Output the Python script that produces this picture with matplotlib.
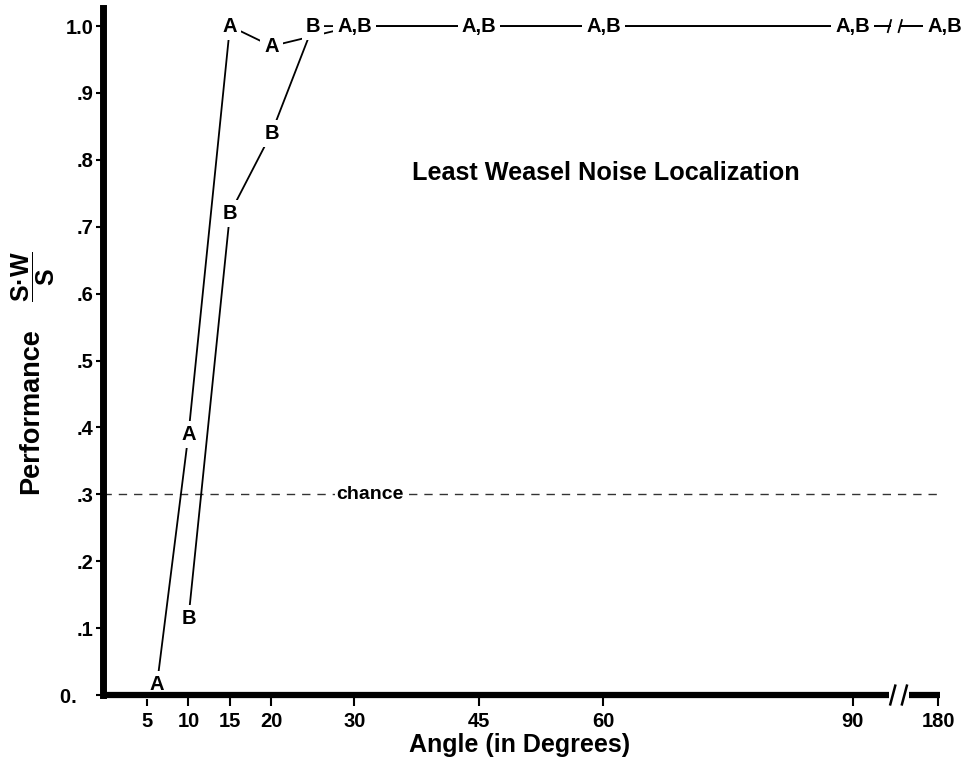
import matplotlib
matplotlib.use('Agg')
import matplotlib.pyplot as plt

plt.rcParams['font.family'] = ['Liberation Sans', 'DejaVu Sans']
plt.rcParams['font.weight'] = 'bold'
plt.rcParams['mathtext.fontset'] = 'custom'
plt.rcParams['mathtext.rm'] = 'Liberation Sans:bold'
plt.rcParams['mathtext.it'] = 'Liberation Sans:bold'
plt.rcParams['mathtext.bf'] = 'Liberation Sans:bold'

# data (angle in degrees, proportion correct)
angle_a = [6.2, 10, 15, 20, 30, 45, 60, 90, 180]
perf_a = [0.015, 0.39, 1.0, 0.97, 1.0, 1.0, 1.0, 1.0, 1.0]
angle_b = [10, 15, 20, 25, 30, 45, 60, 90, 180]
perf_b = [0.115, 0.72, 0.84, 1.0, 1.0, 1.0, 1.0, 1.0, 1.0]
chance = 0.3

x_ticks = [5, 10, 15, 20, 30, 45, 60, 90, 180]
y_ticks = [0, .1, .2, .3, .4, .5, .6, .7, .8, .9, 1.0]
y_ticklabels = ['0.   ', '.1', '.2', '.3', '.4', '.5', '.6', '.7', '.8', '.9', '1.0']

# broken axis: everything past 90 is squeezed to one spot
P180 = 100.3
BREAK_LO, BREAK_HI = 94.4, 96.8


def pos(a):
    return a if a <= 90 else P180


fig = plt.figure(figsize=(9.65, 7.63), dpi=100)
ax = fig.add_axes([0.1067, 0.0891, 0.8674, 0.9004])
ax.set_xlim(-0.3, 100.54)
ax.set_ylim(0, 1.027)

for s in ['top', 'right', 'bottom']:
    ax.spines[s].set_visible(False)
ax.spines['left'].set_linewidth(5)

# bottom axis line with break marks
ax.plot([-0.3, BREAK_LO], [0, 0], color='black', lw=4.5, solid_capstyle='butt', clip_on=False, zorder=5)
ax.plot([BREAK_HI, 100.54], [0, 0], color='black', lw=4.5, solid_capstyle='butt', clip_on=False, zorder=5)
for bx in [94.85, 96.25]:
    ax.plot([bx - 0.3, bx + 0.3], [-0.014, 0.014], color='black', lw=1.8, clip_on=False, zorder=5)

ax.set_xticks([pos(a) for a in x_ticks])
ax.set_xticklabels([str(a) for a in x_ticks])
ax.set_yticks(y_ticks)
ax.set_yticklabels(y_ticklabels)
ax.tick_params(axis='both', direction='out', width=1.5, labelsize=14.5)
ax.tick_params(axis='y', length=5, pad=2)
ax.tick_params(axis='x', length=8, pad=4)
for lab in ax.get_xticklabels() + ax.get_yticklabels():
    lab.set_fontweight('bold')

# chance line
ax.axhline(chance, color='#333333', lw=1.0, dashes=(6, 5), zorder=1)
ax.text(31.9, chance, 'chance', ha='center', va='center', fontsize=14, fontweight='bold',
        bbox=dict(boxstyle='square,pad=0.1', fc='white', ec='none'), zorder=3)

box = dict(boxstyle='square,pad=0.2', fc='white', ec='none')


def draw_series(angles, perfs):
    xs = [pos(a) for a in angles]
    # split line at the axis break
    left_x = [x for x in xs if x <= 90]
    left_y = [p for x, p in zip(xs, perfs) if x <= 90]
    ax.plot(left_x, left_y, color='black', lw=1.3, zorder=2)
    if xs[-1] > 90:
        ax.plot([left_x[-1], 94.5], [left_y[-1], perfs[-1]], color='black', lw=1.3, zorder=2)
        ax.plot([95.8, xs[-1]], [perfs[-1], perfs[-1]], color='black', lw=1.3, zorder=2)


draw_series(angle_a, perf_a)
draw_series(angle_b, perf_b)
for bx in [94.45, 95.75]:
    ax.plot([bx - 0.2, bx + 0.2], [1.0 - 0.009, 1.0 + 0.009], color='black', lw=1.3, zorder=2)

shared = [a for a, p in zip(angle_a, perf_a) if a in angle_b and perf_b[angle_b.index(a)] == p]
for a, p in zip(angle_a, perf_a):
    if a in shared:
        continue
    ax.text(pos(a), p, 'A', ha='center', va='center', fontsize=14.5, fontweight='bold', bbox=box, zorder=4)
for a, p in zip(angle_b, perf_b):
    if a in shared:
        continue
    ax.text(pos(a), p, 'B', ha='center', va='center', fontsize=14.5, fontweight='bold', bbox=box, zorder=4)
for a in shared:
    dx = 0.8 if a > 90 else 0
    ax.text(pos(a) + dx, perf_a[angle_a.index(a)], 'A,B', ha='center', va='center', fontsize=14.5,
            fontweight='bold', bbox=box, zorder=4)

ax.text(60.3, 0.78, 'Least Weasel Noise Localization', ha='center', va='center', fontsize=18.2, fontweight='bold')

fig.text(0.538, 0.023, 'Angle (in Degrees)', ha='center', va='center', fontsize=18, fontweight='bold')
fig.text(0.032, 0.461, 'Performance', rotation=90, ha='center', va='center', fontsize=19.5, fontweight='bold')
fig.text(0.034, 0.637, '$\\dfrac{S\u00b7W}{S}$', rotation=90, ha='center', va='center', fontsize=18)

fig.savefig('out.png', dpi=100)
